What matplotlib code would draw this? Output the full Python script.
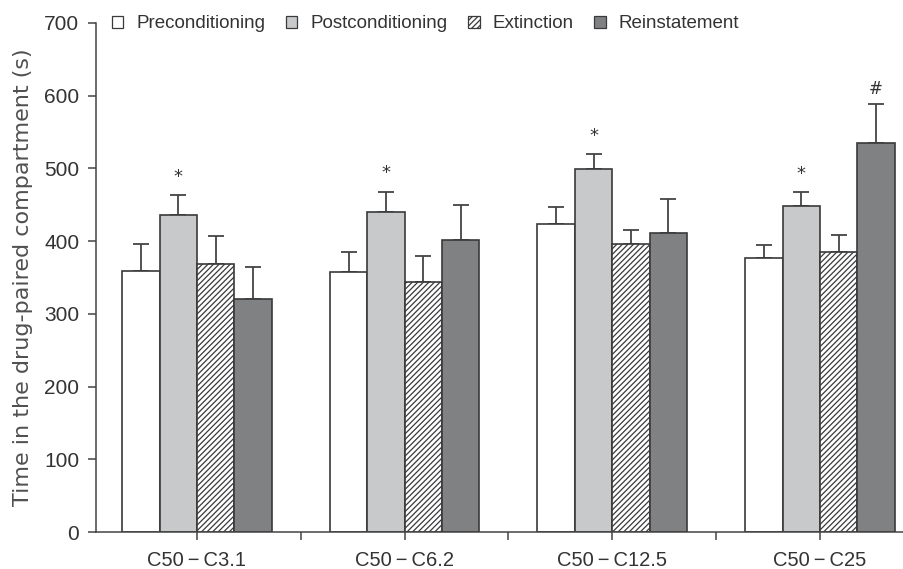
import numpy as np
import matplotlib
matplotlib.use('Agg')
import matplotlib.pyplot as plt
from matplotlib.patches import Patch

# data
groups = ['C50\u2009\u2212\u2009C3.1', 'C50\u2009\u2212\u2009C6.2', 'C50\u2009\u2212\u2009C12.5', 'C50\u2009\u2212\u2009C25']
phases = ['Preconditioning', 'Postconditioning', 'Extinction', 'Reinstatement']
pre = [359, 358, 423, 377]
post = [436, 440, 499, 448]
ext = [368, 344, 396, 385]
rein = [320, 401, 411, 535]
pre_err = [37, 27, 24, 18]
post_err = [27, 28, 21, 19]
ext_err = [39, 36, 19, 23]
rein_err = [44, 49, 47, 53]
# significance marks: (group index, phase index, symbol)
marks = [(0, 1, '*'), (1, 1, '*'), (2, 1, '*'), (3, 1, '*'), (3, 3, '#')]

plt.rcParams['font.family'] = ['Liberation Sans Narrow', 'Liberation Sans', 'DejaVu Sans']
plt.rcParams['hatch.linewidth'] = 0.9
plt.rcParams['hatch.color'] = '#333333'

fig = plt.figure(figsize=(9.04, 5.69), dpi=100)
ax = fig.add_axes([0.106, 0.065, 0.894, 0.895])

values = [pre, post, ext, rein]
errors = [pre_err, post_err, ext_err, rein_err]
faces = ['white', '#c8c9cb', 'white', '#808183']
hatches = [None, None, '//////', None]
width = 0.18
x = np.arange(len(groups))
edge = '#3a3a3a'

for i in range(4):
    pos = x + (i - 1.5) * width
    ax.bar(pos, values[i], width, color=faces[i], edgecolor=edge, linewidth=1.2,
           hatch=hatches[i], zorder=2)
    ax.errorbar(pos, values[i], yerr=[np.zeros(4), errors[i]], fmt='none',
                ecolor='#444444', elinewidth=1.3, capsize=6, capthick=1.3, zorder=1)

for g, p, sym in marks:
    xp = x[g] + (p - 1.5) * width
    top = values[p][g] + errors[p][g]
    off = 13 if sym == '*' else 11
    ax.annotate(sym, (xp, top), xytext=(0, off), textcoords='offset points',
                ha='center', va='center', fontsize=13 if sym == '*' else 12,
                color='#333333', family='DejaVu Sans')

ax.set_xlim(-0.487, 3.405)
ax.set_ylim(0, 700)
ax.set_yticks(range(0, 701, 100))
ax.set_xticks(x)
ax.set_xticklabels(groups)
ax.set_xticks(x[:-1] + 0.5, minor=True)
ax.set_ylabel('Time in the drug-paired compartment (s)', fontsize=16, color='#505050',
              family='DejaVu Sans', labelpad=8)

for s in ['top', 'right']:
    ax.spines[s].set_visible(False)
for s in ['left', 'bottom']:
    ax.spines[s].set_color('#444444')
    ax.spines[s].set_linewidth(1.1)
ax.tick_params(axis='both', which='both', color='#444444', width=1.1, length=5.5,
               labelcolor='#333333')
ax.tick_params(axis='y', labelsize=15, pad=6.5)
ax.tick_params(axis='x', labelsize=14.5, pad=8.5)

handles = [Patch(facecolor=faces[i], edgecolor=edge, hatch=hatches[i], linewidth=0.9)
           for i in range(4)]
fig.legend(handles, phases, loc='center', bbox_to_anchor=(0.471, 1 - 24 / 569),
           ncol=4, frameon=False, fontsize=13.5, handlelength=0.6, handleheight=0.6,
           handletextpad=0.7, columnspacing=1.1, labelcolor='#333333')

fig.savefig('out.png', dpi=100)
